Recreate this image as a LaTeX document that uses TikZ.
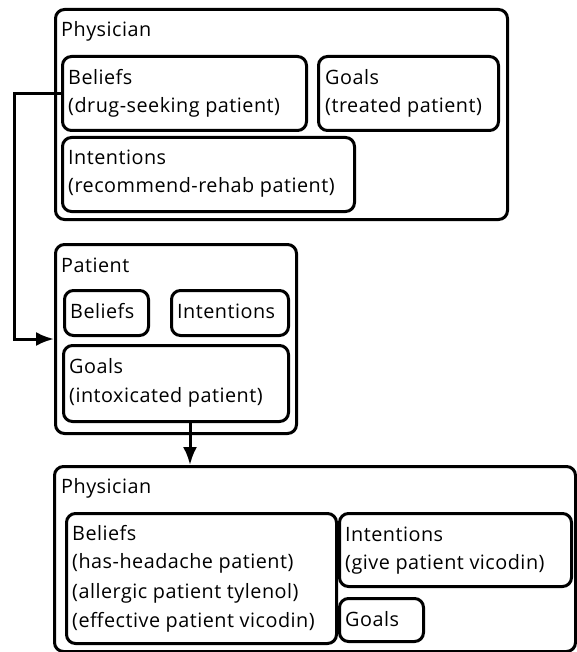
\documentclass[tikz,border=0pt]{standalone}
\usepackage{fontspec}
\setmainfont{Open Sans}[LetterSpace=2.5]
\usetikzlibrary{arrows.meta}
\begin{document}
\begin{tikzpicture}[x=1pt,y=-1pt,
  box/.style={draw, line width=3pt, rounded corners=9pt, rectangle,
    inner sep=0pt, anchor=north west},
  txt/.style={anchor=base west, inner sep=0pt, font=\fontsize{19.8}{28}\selectfont},
  link/.style={line width=3pt, -{Latex[length=18pt,width=14pt]}}]
\useasboundingbox (0,0) rectangle (576,652);

% first physician state
\node[box, minimum width=452pt, minimum height=210pt] (P1) at (54,8) {};
\node[box, minimum width=244pt, minimum height=74pt] (B1) at (61,55) {};
\node[box, minimum width=180pt, minimum height=74pt] (G1) at (317,55) {};
\node[box, minimum width=292pt, minimum height=74pt] (I1) at (61,136) {};
\node[txt] (tP1) at (61,37) {Physician};
\node[txt] (tB1a) at (68,85) {Beliefs};
\node[txt] (tB1b) at (68,113) {(drug-seeking patient)};
\node[txt] (tG1a) at (325,85) {Goals};
\node[txt] (tG1b) at (325,113) {(treated patient)};
\node[txt] (tI1a) at (68,165) {Intentions};
\node[txt] (tI1b) at (68,193) {(recommend-rehab patient)};

% patient state
\node[box, minimum width=241pt, minimum height=189pt] (P2) at (54,243) {};
\node[box, minimum width=84pt, minimum height=45pt] (B2) at (63,289) {};
\node[box, minimum width=117pt, minimum height=45pt] (I2) at (170,289) {};
\node[box, minimum width=225pt, minimum height=76pt] (G2) at (62,344) {};
\node[txt] (tP2) at (61,272) {Patient};
\node[txt] (tB2) at (70,318) {Beliefs};
\node[txt] (tI2) at (177,318) {Intentions};
\node[txt] (tG2a) at (69,373) {Goals};
\node[txt] (tG2b) at (69,402) {(intoxicated patient)};

% second physician state
\node[box, minimum width=521pt, minimum height=185pt] (P3) at (53,465) {};
\node[box, minimum width=270pt, minimum height=130pt] (B3) at (65,512) {};
\node[box, minimum width=232pt, minimum height=73pt] (I3) at (338,512) {};
\node[box, minimum width=84pt, minimum height=43pt] (G3) at (338,597) {};
\node[txt] (tP3) at (61,493) {Physician};
\node[txt] (tB3a) at (72,540) {Beliefs};
\node[txt] (tB3b) at (72,568) {(has-headache patient)};
\node[txt] (tB3c) at (72,598) {(allergic patient tylenol)};
\node[txt] (tB3d) at (72,627) {(effective patient vicodin)};
\node[txt] (tI3a) at (345,541) {Intentions};
\node[txt] (tI3b) at (345,569) {(give patient vicodin)};
\node[txt] (tG3) at (345,626) {Goals};

% connectors
\coordinate (turnA) at (14,92);
\draw[link] (B1.west) -- (B1.west -| turnA) |- (P2.west);
\draw[link] (G2.south -| 190,0) -- (P3.north -| 190,0);
\end{tikzpicture}
\end{document}
